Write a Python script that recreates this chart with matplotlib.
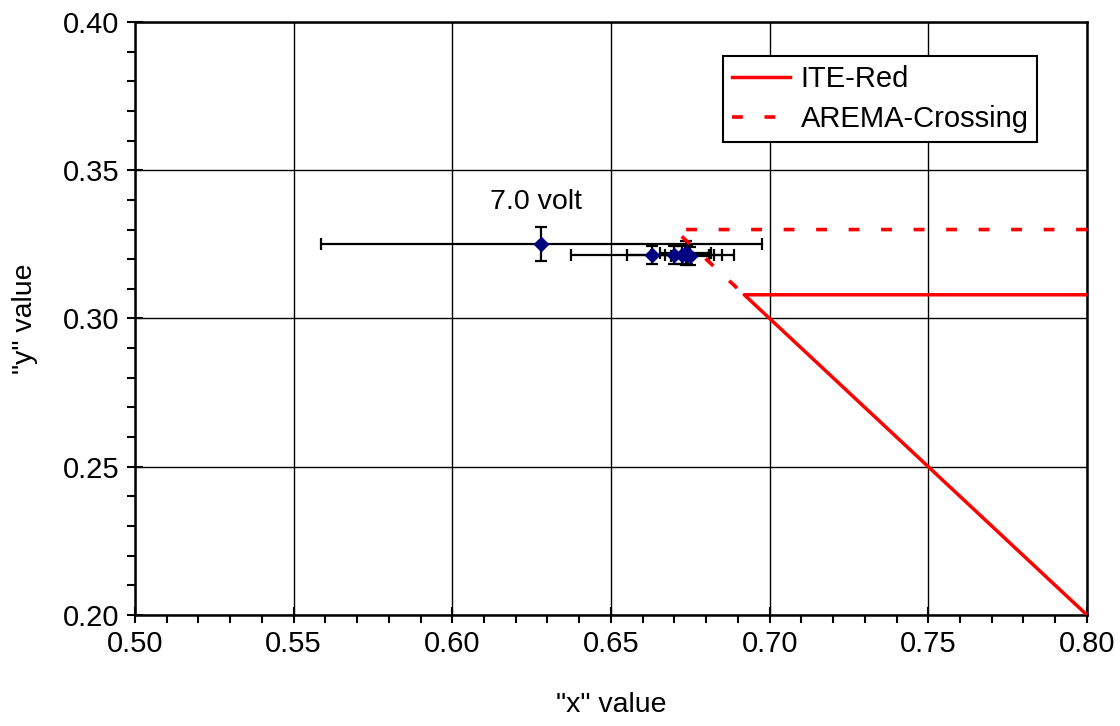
import matplotlib
matplotlib.use("Agg")
import matplotlib.pyplot as plt
from matplotlib.ticker import MultipleLocator

plt.rcParams["font.family"] = ["Liberation Sans", "DejaVu Sans"]

# measured chromaticity points (x, y) with uncertainties
pt_x = [0.628, 0.663, 0.670, 0.6725, 0.6735, 0.674, 0.675]
pt_y = [0.3250, 0.3215, 0.3215, 0.3215, 0.3220, 0.3215, 0.3212]
pt_xerr = [0.0695, 0.0257, 0.0150, 0.0100, 0.0080, 0.0070, 0.0060]
pt_yerr = [0.0057, 0.0030, 0.0030, 0.0030, 0.0040, 0.0030, 0.0030]

# colour boundary polygons
ite_x = [0.800, 0.692, 0.800]
ite_y = [0.308, 0.308, 0.200]
arema_x = [0.800, 0.670, 0.690]
arema_y = [0.330, 0.330, 0.310]

RED = "#ff0000"
NAVY = "#000080"

fig = plt.figure(figsize=(11.2, 7.26), dpi=100)
ax = fig.add_axes([0.1205, 0.1529, 0.85, 0.8168])

ax.errorbar(pt_x, pt_y, xerr=pt_xerr, yerr=pt_yerr, fmt="D", color=NAVY,
            markersize=7.5, ecolor="black", elinewidth=1.6, capsize=4,
            capthick=1.6, zorder=3)
ax.plot(ite_x, ite_y, color=RED, lw=2.5, label="ITE-Red", zorder=4)
ax.plot(arema_x, arema_y, color=RED, lw=2.6, dashes=(3.0, 6.0),
        label="AREMA-Crossing", zorder=4)

ax.text(0.6265, 0.3393, "7.0 volt", ha="center", va="center", fontsize=20.5)

ax.set_xlim(0.50, 0.80)
ax.set_ylim(0.20, 0.40)
ax.xaxis.set_major_locator(MultipleLocator(0.05))
ax.xaxis.set_minor_locator(MultipleLocator(0.01))
ax.yaxis.set_major_locator(MultipleLocator(0.05))
ax.yaxis.set_minor_locator(MultipleLocator(0.01))
ax.xaxis.set_major_formatter(plt.FormatStrFormatter("%.2f"))
ax.yaxis.set_major_formatter(plt.FormatStrFormatter("%.2f"))
ax.tick_params(which="major", direction="inout", length=12, width=1.5,
               labelsize=21, pad=5)
ax.tick_params(which="minor", direction="out", length=6, width=1.5)
ax.grid(True, which="major", color="black", lw=1.0)
for s in ax.spines.values():
    s.set_linewidth(1.8)

ax.set_xlabel('"x" value', fontsize=20.5, labelpad=24)
ax.set_ylabel('"y" value', fontsize=20.5, labelpad=18)

leg = ax.legend(loc="upper right", bbox_to_anchor=(0.948, 0.942),
                fontsize=21, frameon=True, fancybox=False, framealpha=1,
                edgecolor="black", handlelength=2.0, borderpad=0.3,
                labelspacing=0.4, handletextpad=0.35, borderaxespad=0)
leg.get_frame().set_linewidth(1.5)

fig.savefig("out.png", dpi=100, facecolor="white")
